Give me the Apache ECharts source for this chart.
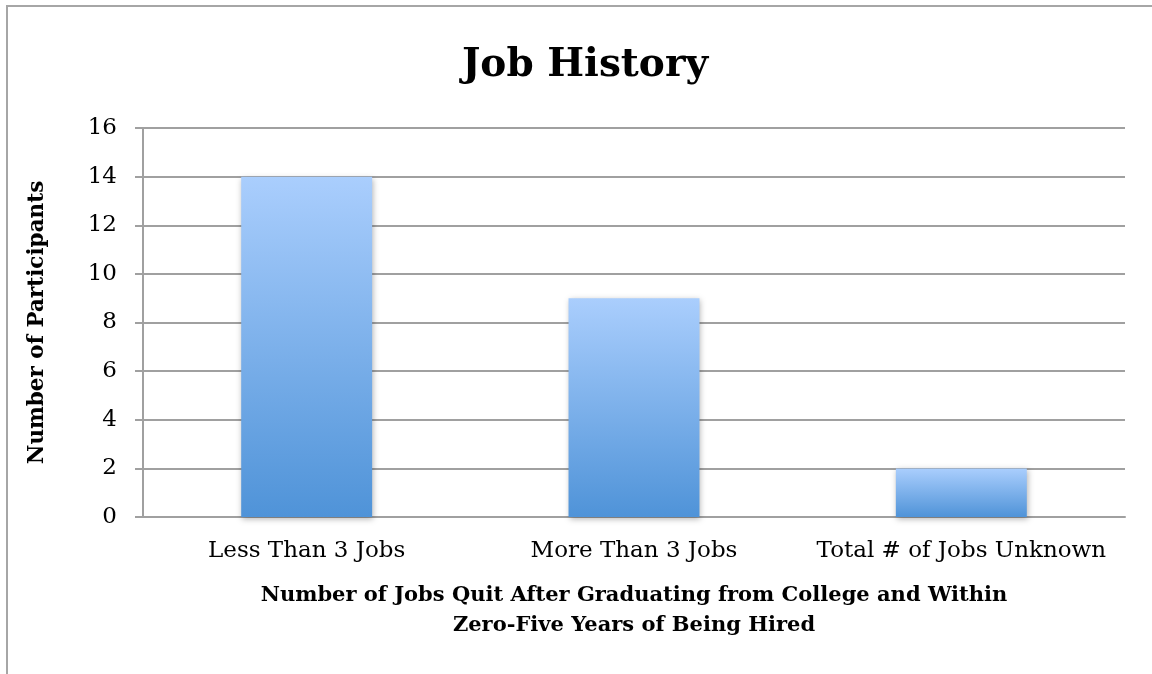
<!DOCTYPE html>
<html><head><meta charset="utf-8">
<script src="https://cdn.jsdelivr.net/npm/echarts@6/dist/echarts.min.js"></script>
<style>html,body{margin:0;padding:0;background:#fff}#c{width:1152px;height:674px}
#frame{position:absolute;left:6px;top:5px;width:1160px;height:700px;border:2px solid #a6a6a6;box-sizing:border-box;pointer-events:none}</style>
</head><body><div id="c"></div><div id="frame"></div>
<script>
const categories = ['Less Than 3 Jobs', 'More Than 3 Jobs', 'Total # of Jobs Unknown'];
const values = [14, 9, 2];
const yTicks = { min: 0, max: 16, interval: 2 };
const FONT = 'DejaVu Serif';
const chart = echarts.init(document.getElementById('c'));
chart.setOption({
  animation: false,
  title: { text: 'Job History', left: 580, top: 41, textAlign: 'center',
    textStyle: { fontFamily: FONT, fontWeight: 'bold', fontSize: 39, color: '#000' } },
  grid: { left: 143, right: 27, top: 128, bottom: 157 },
  xAxis: {
    type: 'category', data: categories,
    axisLine: { show: true, lineStyle: { color: '#a0a0a0', width: 2 } },
    axisTick: { show: false },
    axisLabel: { fontFamily: FONT, fontSize: 23, color: '#000', margin: 23, interval: 0 },
    name: 'Number of Jobs Quit After Graduating from College and Within\nZero-Five Years of Being Hired',
    nameLocation: 'middle', nameGap: 64,
    nameTextStyle: { fontFamily: FONT, fontWeight: 'bold', fontSize: 21, color: '#000', lineHeight: 30 }
  },
  yAxis: {
    type: 'value', min: yTicks.min, max: yTicks.max, interval: yTicks.interval,
    axisLine: { show: true, lineStyle: { color: '#a0a0a0', width: 2 } },
    axisTick: { show: true, length: 8, lineStyle: { color: '#a0a0a0', width: 2 } },
    splitLine: { lineStyle: { color: '#a0a0a0', width: 2 } },
    axisLabel: { fontFamily: FONT, fontSize: 23, color: '#000', margin: 26 },
    name: 'Number of Participants', nameLocation: 'middle', nameGap: 95, nameRotate: 90,
    nameTextStyle: { fontFamily: FONT, fontWeight: 'bold', fontSize: 21.5, color: '#000' }
  },
  series: [{
    type: 'bar', data: values, barWidth: '40%',
    itemStyle: {
      color: new echarts.graphic.LinearGradient(0, 0, 0, 1, [
        { offset: 0, color: '#aacefd' }, { offset: 1, color: '#4f93d8' }
      ]),
      shadowColor: 'rgba(0,0,0,0.3)', shadowBlur: 6, shadowOffsetX: 1, shadowOffsetY: 2
    }
  }]
});
</script></body></html>
